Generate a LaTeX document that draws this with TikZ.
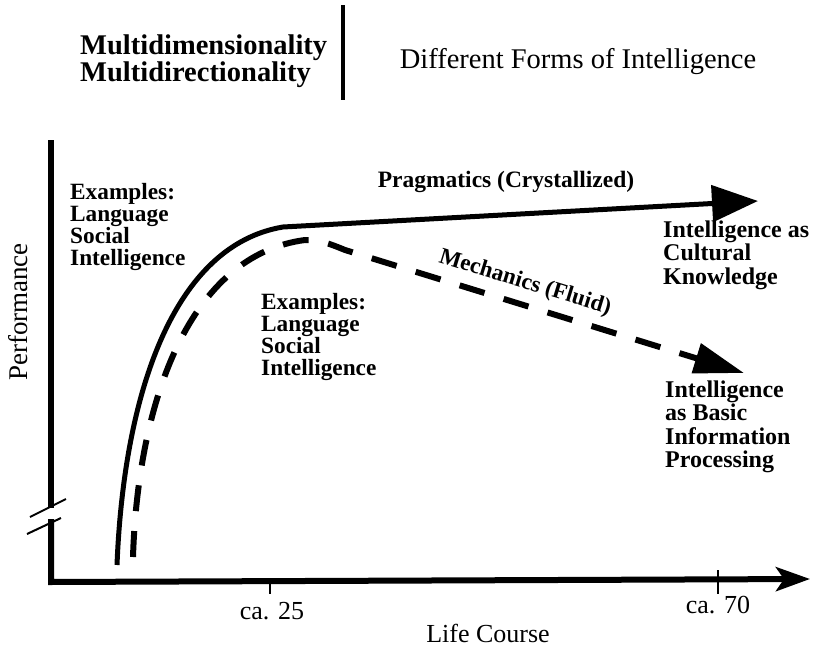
\documentclass[tikz,border=0pt]{standalone}
\usepackage{fontspec}
\setmainfont{Liberation Serif}
\usetikzlibrary{arrows.meta}
\begin{document}
\begin{tikzpicture}[x=1pt,y=-1pt,
  txt/.style={inner sep=0pt, align=left},
  bigbold/.style={txt, font=\bfseries\fontsize{28.5}{27}\selectfont},
  bigreg/.style={txt, font=\fontsize{28.5}{27}\selectfont},
  axlbl/.style={txt, font=\fontsize{26}{26}\selectfont},
  lbl/.style={txt, anchor=north west, font=\bfseries\fontsize{23.3}{22}\selectfont},
  lblr/.style={txt, anchor=north west, font=\bfseries\fontsize{24}{23.5}\selectfont},
  axis/.style={line width=6pt, line join=miter},
  curve/.style={line width=5pt},
  dcurve/.style={line width=6pt, dash pattern=on 26pt off 20pt}
]
\useasboundingbox (0,0) rectangle (815,648);

% header
\node[bigbold, anchor=north west] (mm) at (80,34.5) {Multidimensionality\\Multidirectionality};
\coordinate (bt) at (343,5);
\coordinate (bb) at (343,100);
\draw[line width=4pt] (bt) -- (bb);
\node[bigreg] (dfi) at (578,62) {Different Forms of Intelligence};

% axes
\coordinate (ytop) at (51,140);
\coordinate (ybrk1) at (51,508);
\coordinate (ybrk2) at (51,519);
\coordinate (orig) at (51,582);
\coordinate (xend) at (810,579);
\draw[axis] (ytop) -- (ybrk1);
\draw[axis, -{Stealth[length=34pt,width=24pt,inset=8pt]}] (ybrk2) -- (orig) -- (xend);
\draw[line width=2pt] (30,517) -- (66,499);
\draw[line width=2pt] (27,534) -- (61,518);
\coordinate (t25) at (270,582);
\coordinate (t70) at (718,580);
\draw[line width=1.5pt] (t25) -- ++(0,12);
\draw[line width=1.5pt] (t70) ++(0,-10) -- ++(0,24);
\node[axlbl] (c25) at (272,611) {ca. 25};
\node[axlbl] (c70) at (718,605) {ca. 70};
\node[axlbl] (lc) at (488,633) {Life Course};
\node[txt, rotate=90, font=\fontsize{27}{27}\selectfont] (perf) at (18,312) {Performance};

% curves
\draw[curve, -{Triangle[length=46pt,width=36pt]}]
  (117,565) .. controls (124,390) and (175,245) .. (283,227) -- (758,201);
\draw[dcurve, -{Triangle[length=50pt,width=30pt]}]
  (133,557) .. controls (138,400) and (190,255) .. (305,240)
  .. controls (318,239.5) and (328,243) .. (345,250) -- (744,373);

% labels
\node[txt, font=\bfseries\fontsize{23.5}{22}\selectfont] (prag) at (506,182) {Pragmatics (Crystallized)};
\node[txt, rotate=-17, font=\bfseries\fontsize{23}{22}\selectfont] (mech) at (525,283) {Mechanics (Fluid)};
\node[lbl] (ex1) at (70,183.5) {Examples:\\Language\\Social\\Intelligence};
\node[lbl] (ex2) at (261,293.5) {Examples:\\Language\\Social\\Intelligence};
\node[lblr] (ick) at (663,220.5) {Intelligence as\\Cultural\\Knowledge};
\node[lblr] (ibp) at (665,380.5) {Intelligence\\as Basic\\Information\\Processing};
\end{tikzpicture}
\end{document}
